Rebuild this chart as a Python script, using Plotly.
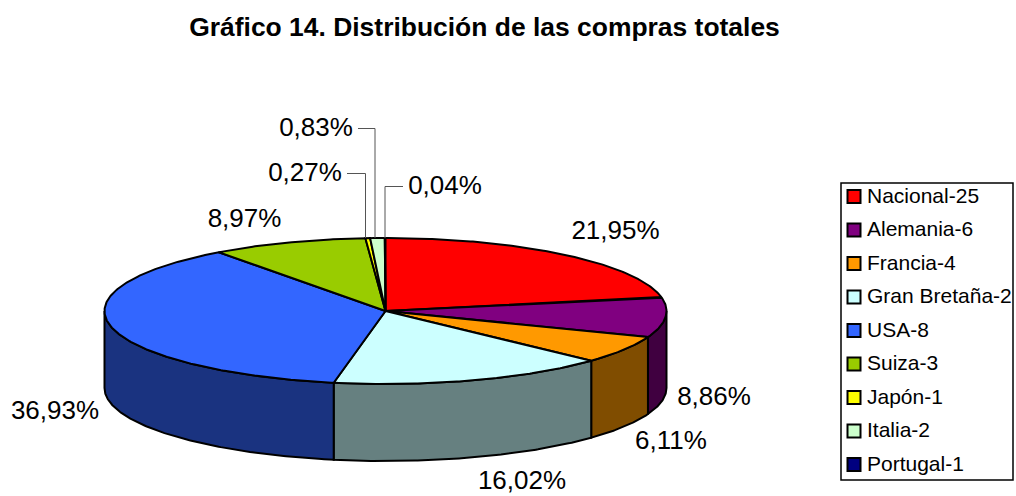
import numpy as np
import plotly.graph_objects as go

TITLE = "Gráfico 14. Distribución de las compras totales"
categories = ["Nacional-25", "Alemania-6", "Francia-4", "Gran Bretaña-2", "USA-8",
              "Suiza-3", "Japón-1", "Italia-2", "Portugal-1"]
shares = [21.95, 8.86, 6.11, 16.02, 36.93, 8.97, 0.27, 0.83, 0.04]
labels = ["21,95%", "8,86%", "6,11%", "16,02%", "36,93%", "8,97%", "0,27%", "0,83%", "0,04%"]
colors = ["#FF0000", "#800080", "#FF9900", "#CCFFFF", "#3366FF",
          "#99CC00", "#FFFF00", "#CCFFCC", "#000080"]
wall_colors = ["#800000", "#400040", "#804D00", "#668080", "#1A3380",
               "#4D6600", "#808000", "#668066", "#000040"]

# Geometry of the tilted pie, in pixels of the 1016x496 canvas
CX, CY, RX, RY, DEPTH = 385.5, 311, 281, 73, 77
LABEL_X = [615.5, 714, 671, 522, 55, 244.5, 305, 316, 445]
LABEL_Y = [232, 398, 442.5, 482, 412, 220.5, 174.5, 129.5, 187.5]
LEADER_Y = {6: 173.5, 7: 128.5, 8: 186.5}
LEADER_END_X = {6: 347, 7: 358, 8: 403}
LEADER_X = {6: 365.5, 7: 375, 8: 385}
LEG_LEFT, LEG_RIGHT, LEG_TOP, LEG_BOTTOM = 841, 1013, 183, 480
LEG_Y0, LEG_STEP, LEG_SWATCH_X, LEG_TEXT_X = 196.5, 33.5, 854, 867
FONT = "Liberation Sans, Arial, sans-serif"


def arc(a0, a1, dy=0.0):
    t = np.radians(np.linspace(a0, a1, max(int(abs(a1 - a0) * 2), 2)))
    return CX + RX * np.sin(t), CY - RY * np.cos(t) + dy


edges = np.concatenate([[0], np.cumsum(shares)]) / sum(shares) * 360
fig = go.Figure()
line = dict(color="black", width=2)

# Side walls: only the front half of the rim is visible
for i, name in enumerate(categories):
    a0, a1 = max(edges[i], 90), min(edges[i + 1], 270)
    if a1 <= a0:
        continue
    xt, yt = arc(a0, a1)
    xb, yb = arc(a1, a0, DEPTH)
    fig.add_trace(go.Scatter(x=np.r_[xt, xb, xt[0]], y=np.r_[yt, yb, yt[0]], mode="lines",
                             fill="toself", fillcolor=wall_colors[i], line=line,
                             name=name, hoverinfo="name", showlegend=False))

# Top face
for i, name in enumerate(categories):
    xt, yt = arc(edges[i], edges[i + 1])
    fig.add_trace(go.Scatter(x=np.r_[CX, xt, CX], y=np.r_[CY, yt, CY], mode="lines",
                             fill="toself", fillcolor=colors[i], line=line,
                             name=name, hoverinfo="name", showlegend=False))

# Leader lines of the thin slices
for i, ly in LEADER_Y.items():
    xm = LEADER_X[i]
    ym = CY - RY
    fig.add_trace(go.Scatter(x=[LEADER_END_X[i], xm, xm], y=[ly, ly, ym], mode="lines",
                             line=dict(color="#555555", width=1), hoverinfo="skip", showlegend=False))

# Percentage labels
fig.add_trace(go.Scatter(x=LABEL_X, y=LABEL_Y, mode="text", text=labels,
                         textposition="middle center",
                         textfont=dict(family=FONT, size=26, color="black"),
                         hoverinfo="skip", showlegend=False))

# Legend
rows = [LEG_Y0 + LEG_STEP * i for i in range(len(categories))]
fig.add_shape(type="rect", x0=LEG_LEFT, x1=LEG_RIGHT, y0=LEG_TOP, y1=LEG_BOTTOM,
              xref="x", yref="y", line=dict(color="black", width=1.5), fillcolor="white", layer="below")
fig.add_trace(go.Scatter(x=[LEG_SWATCH_X] * len(rows), y=rows, mode="markers",
                         marker=dict(symbol="square", size=13, color=colors,
                                     line=dict(color="black", width=2)),
                         hoverinfo="skip", showlegend=False))
fig.add_trace(go.Scatter(x=[LEG_TEXT_X] * len(rows), y=[r + 1 for r in rows], mode="text", text=categories,
                         textposition="middle right",
                         textfont=dict(family=FONT, size=21, color="black"),
                         hoverinfo="skip", showlegend=False))

fig.update_layout(
    width=1016, height=496, margin=dict(l=0, r=0, t=0, b=0),
    paper_bgcolor="white", plot_bgcolor="white", showlegend=False,
    title=dict(text=f"<b>{TITLE}</b>", x=484.5 / 1016, xanchor="center", y=1 - 27 / 496, yanchor="middle",
               font=dict(family=FONT, size=26.45, color="black")),
    xaxis=dict(range=[0, 1016], visible=False, fixedrange=True),
    yaxis=dict(range=[496, 0], visible=False, fixedrange=True),
)
fig.write_html("out.html", post_script="document.body.style.margin='0';document.body.style.overflow='hidden';",
               config=dict(displayModeBar=False))
